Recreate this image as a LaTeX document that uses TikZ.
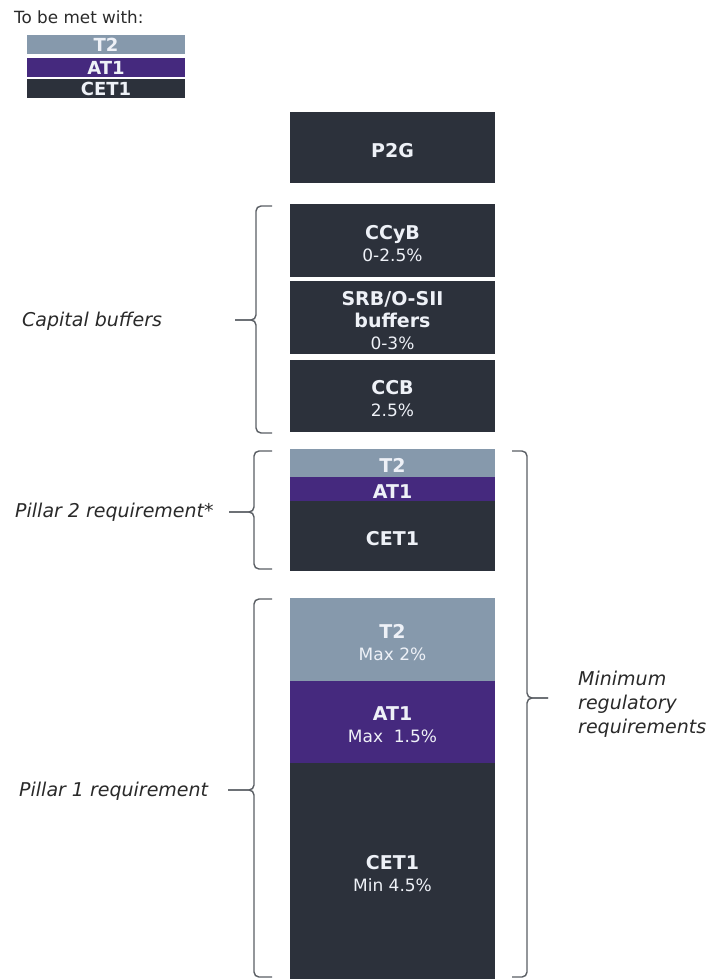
\documentclass[tikz,border=0pt]{standalone}
\usepackage{fontspec}
\setmainfont{DejaVu Sans}
\definecolor{darkbox}{HTML}{2C313B}
\definecolor{tiertwo}{HTML}{8699AC}
\definecolor{atone}{HTML}{45297E}
\definecolor{boxtext}{HTML}{EEF1F7}
\definecolor{bracecol}{HTML}{5A5E64}
\definecolor{labelcol}{HTML}{2A2A2A}
\newcommand\boxtitle{\fontsize{19}{22}\selectfont\bfseries}
\newcommand\boxsub{\fontsize{17}{22}\selectfont}
\newcommand\lowerit{\rule{0pt}{19.5pt}}
\begin{document}
\begin{tikzpicture}[x=1pt,y=-1pt,
  colbox/.style={rectangle, inner sep=0pt, minimum width=205pt, text=boxtext, align=center, font=\boxsub},
  legbox/.style={rectangle, inner sep=0pt, minimum width=158pt, minimum height=19pt, text=boxtext, font=\fontsize{18}{19}\selectfont\bfseries},
  brace/.style={draw=bracecol, line width=1.4pt, rounded corners=5pt},
  sidelabel/.style={inner sep=0pt, text=labelcol, font=\fontsize{19}{24}\selectfont\itshape, align=left}
]
\useasboundingbox (0,0) rectangle (711,979);
\fill[white] (0,0) rectangle (711,979);

% legend
\node[anchor=west, inner sep=0pt, text=labelcol, font=\fontsize{16.8}{19}\selectfont] (legtitle) at (14,17) {To be met with:};
\node[legbox, fill=tiertwo] (legT2) at (106,44.5) {T2};
\node[legbox, fill=atone] (legAT1) at (106,67.5) {AT1};
\node[legbox, fill=darkbox] (legCET1) at (106,88.5) {CET1};

% column
\node[colbox, fill=darkbox, minimum height=71pt] (p2g) at (392.5,147.5) {\lowerit{\boxtitle P2G}};
\node[colbox, fill=darkbox, minimum height=73pt] (ccyb) at (392.5,240.5) {\lowerit{\boxtitle CCyB}\\0-2.5\%};
\node[colbox, fill=darkbox, minimum height=73pt] (srb) at (392.5,317.5) {\lowerit{\boxtitle SRB/O-SII}\\{\boxtitle buffers}\\0-3\%};
\node[colbox, fill=darkbox, minimum height=72pt] (ccb) at (392.5,396) {\lowerit{\boxtitle CCB}\\2.5\%};

\node[colbox, fill=tiertwo, minimum height=28pt] (ptwoT2) at (392.5,463) {\lowerit{\boxtitle T2}};
\node[colbox, fill=atone, minimum height=24pt] (ptwoAT1) at (392.5,489) {\lowerit{\boxtitle AT1}};
\node[colbox, fill=darkbox, minimum height=70pt] (ptwoCET1) at (392.5,536) {\lowerit{\boxtitle CET1}};

\node[colbox, fill=tiertwo, minimum height=83pt] (poneT2) at (392.5,639.5) {\lowerit{\boxtitle T2}\\Max 2\%};
\node[colbox, fill=atone, minimum height=82pt] (poneAT1) at (392.5,722) {\lowerit{\boxtitle AT1}\\Max\ \ 1.5\%};
\node[colbox, fill=darkbox, minimum height=216pt] (poneCET1) at (392.5,871) {\lowerit{\boxtitle CET1}\\Min 4.5\%};

% labels
\node[sidelabel, anchor=west] (lcap) at (22,321) {Capital buffers};
\node[sidelabel, anchor=west] (lp2) at (15,512) {Pillar 2 requirement*};
\node[sidelabel, anchor=west] (lp1) at (19,791) {Pillar 1 requirement};
\node[sidelabel, anchor=north west] (lmin) at (578,671) {Minimum\\regulatory\\requirements};

% braces
\draw[brace] (272,206) -| (256,320) -- (235,320);
\draw[brace] (272,433) -| (256,320) -- (235,320);

\draw[brace] (272,451) -| (254,512) -- (229,512);
\draw[brace] (272,569) -| (254,512) -- (229,512);

\draw[brace] (272,599) -| (254,790) -- (228,790);
\draw[brace] (272,977) -| (254,790) -- (228,790);

\draw[brace] (512,451) -| (527,698) -- (548,698);
\draw[brace] (512,977) -| (527,698) -- (548,698);
\end{tikzpicture}
\end{document}
